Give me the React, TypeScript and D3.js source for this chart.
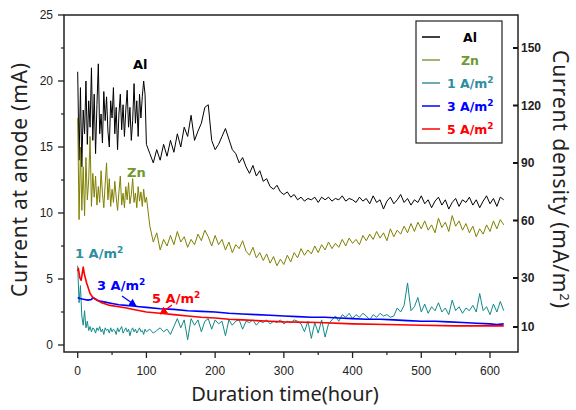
import React from "react";
import * as d3 from "d3";

// hours for the noisy anode current records (2 h steps, then 5 h)
const noisyHours = [...d3.range(0, 101, 2), ...d3.range(105, 621, 5)];

const alValues = [
  20.7, 14.0, 19.5, 13.5, 17.8, 16.0, 20.0, 15.2, 18.5, 16.5,
  21.0, 15.5, 19.0, 14.5, 18.2, 21.3, 16.0, 17.5, 15.3, 19.2,
  17.0, 18.8, 16.2, 15.0, 18.5, 17.2, 19.5, 16.0, 18.0, 14.8,
  17.5, 19.0, 16.3, 18.2, 15.8, 17.8, 19.3, 16.5, 18.0, 15.5,
  17.0, 19.8, 16.8, 18.5, 15.8, 19.0, 17.2, 18.8, 20.0, 19.0,
  15.2,
  14.5, 13.8, 14.8, 14.0, 15.2, 14.3, 15.5, 14.6, 16.0, 15.0,
  16.5, 15.8, 17.4, 15.5, 16.2, 16.8, 18.0, 18.2, 15.5, 14.8,
  15.2, 15.8, 16.4, 15.6, 14.8, 14.5, 13.8, 14.2, 13.5, 13.0,
  13.6, 12.8, 13.2, 12.4, 12.6, 12.0, 11.8, 12.1, 11.6, 11.4,
  11.6, 11.2, 11.4, 11.0, 11.2, 10.9, 11.1, 11.0, 11.2, 10.8,
  11.2, 11.0, 11.2, 10.9, 11.1, 11.0, 11.3, 10.9, 11.1, 11.0,
  10.8, 11.2, 10.9, 11.1, 10.7, 11.3, 10.8, 11.0, 10.3, 10.9,
  11.2, 10.7, 11.0, 11.4, 10.8, 11.1, 10.6, 11.0, 10.8, 11.3,
  10.7, 11.0, 10.4, 10.9, 11.2, 10.6, 11.0, 10.3, 10.8, 11.1,
  10.5, 11.0, 10.8, 11.2, 10.6, 11.0, 10.4, 10.9, 11.3, 10.7,
  11.1, 10.5, 11.2, 11.0,
];

const znValues = [
  17.2, 9.5, 15.0, 10.2, 13.5, 9.8, 14.2, 11.0, 12.5, 15.8,
  10.5, 13.0, 11.2, 12.8, 10.6, 12.0, 10.8, 13.2, 11.5, 10.4,
  12.2, 13.8, 11.0, 12.6, 10.5, 11.8, 10.8, 12.4, 11.2, 10.2,
  11.6, 12.8, 10.6, 11.5, 10.4, 12.0, 11.0, 12.3, 10.7, 11.4,
  12.6, 10.8, 11.5, 10.4, 12.0, 10.9, 11.6, 10.5, 11.8, 10.8,
  11.2,
  9.0, 7.8, 8.5, 7.2, 8.0, 7.5, 8.3, 7.6, 8.6, 7.8,
  8.2, 7.4, 8.0, 7.6, 8.4, 7.9, 8.7, 8.2, 7.5, 8.3,
  7.6, 8.0, 7.2, 7.8, 7.0, 7.6, 7.3, 7.9, 7.1, 6.8,
  7.4, 6.6, 7.0, 6.4, 6.9, 6.2, 6.7, 6.0, 6.5, 6.1,
  6.8, 6.3, 7.0, 6.6, 7.3, 6.8, 7.2, 6.9, 7.5, 7.0,
  7.6, 7.2, 7.8, 7.3, 7.7, 7.4, 8.0, 7.5, 8.1, 7.7,
  8.0, 7.6, 8.3, 7.9, 8.4, 8.0, 8.6, 8.1, 8.5, 7.9,
  8.8, 8.2, 8.7, 8.4, 9.0, 8.5, 9.2, 8.6, 9.3, 8.8,
  9.4, 8.7, 9.1, 8.5, 9.6, 8.9, 9.3, 8.6, 9.8, 9.0,
  9.4, 8.7, 9.2, 8.5, 9.0, 8.2, 8.8, 8.4, 9.1, 8.6,
  9.4, 8.8, 9.5, 9.1,
];

const oneAmpValues = [
  6.0, 3.2, 4.5, 2.2, 1.5, 2.6, 1.3, 1.8, 1.1, 1.4,
  1.0, 1.3, 1.2, 0.9, 1.3, 1.1, 1.4, 1.0, 1.2, 0.8,
  1.3, 1.1, 1.2, 0.9, 1.3, 1.0, 1.2, 1.1, 0.8, 1.3,
  1.0, 1.2, 1.4, 0.9, 1.1, 1.3, 1.0, 1.2, 0.7, 1.1,
  1.3, 1.0, 1.2, 0.9, 1.1, 1.3, 1.0, 1.1, 0.8, 1.2,
  1.0,
  1.2, 0.9, 1.1, 1.3, 1.0, 1.2, 0.8, 1.4, 2.0, 1.3,
  1.9, 0.4, 2.0, 1.5, 1.9, 1.0, 1.8, 2.0, 1.2, 1.9,
  1.6, 1.8, 0.7, 1.9, 1.5, 1.8, 1.9, 1.2, 1.8, 1.7,
  1.9, 1.5, 1.8, 1.7, 1.9, 1.6, 1.8, 1.7, 1.9, 1.6,
  1.8, 1.7, 1.9, 1.8, 1.6, 1.0, 1.8, 0.5, 1.7, 0.9,
  1.9, 0.6, 1.6, 1.9, 2.2, 1.8, 2.3, 2.1, 2.4, 2.0,
  2.3, 2.1, 2.4, 2.2, 1.9, 2.3, 2.1, 2.4, 2.2, 2.3,
  2.1, 2.2, 2.8, 2.5, 3.0, 4.7, 2.6, 2.9, 3.6, 2.5,
  3.1, 2.4, 2.9, 2.6, 3.2, 2.5, 2.8, 2.3, 3.4, 2.6,
  2.9, 2.4, 2.8, 2.6, 3.0, 2.5, 3.9, 2.6, 2.9, 2.3,
  3.1, 2.5, 3.3, 2.6,
];

const threeAmpHours = [0, 2, 5, 10, 15, 20, 22, 30, 40, 50, 60, 70, 80, 90, 100, 120, 140, 160, 180, 200, 220, 240, 260, 280, 300, 320, 340, 360, 380, 400, 420, 440, 460, 480, 500, 520, 540, 560, 580, 600, 610, 620];
const threeAmpValues = [3.6, 3.55, 3.5, 3.45, 3.4, 3.45, 3.6, 3.35, 3.25, 3.15, 3.05, 3.0, 2.95, 2.9, 2.85, 2.75, 2.7, 2.6, 2.55, 2.5, 2.4, 2.35, 2.3, 2.25, 2.2, 2.15, 2.1, 2.1, 2.05, 2.0, 1.95, 1.95, 1.9, 1.85, 1.8, 1.8, 1.75, 1.7, 1.65, 1.6, 1.55, 1.6];

const fiveAmpHours = [0, 1, 3, 5, 8, 10, 13, 18, 22, 28, 35, 47, 60, 71, 85, 100, 120, 140, 160, 180, 200, 220, 240, 260, 280, 300, 350, 400, 450, 500, 550, 600, 620];
const fiveAmpValues = [5.6, 5.8, 5.1, 4.9, 5.9, 5.3, 4.7, 3.9, 3.6, 3.4, 3.2, 3.0, 2.9, 2.8, 2.65, 2.5, 2.4, 2.3, 2.2, 2.1, 2.05, 1.95, 1.9, 1.85, 1.8, 1.75, 1.7, 1.6, 1.55, 1.5, 1.45, 1.45, 1.45];

const xTicks = [0, 100, 200, 300, 400, 500, 600];
const leftTicks = [0, 5, 10, 15, 20, 25];
const rightTicks = [10, 30, 60, 90, 120, 150];

const legendItems = [
  { label: "Al", line: "#000000", text: "#000000", sup: false },
  { label: "Zn", line: "#7f9f3f", text: "#6f9a2f", sup: false },
  { label: "1 A/m", line: "#3a8fa3", text: "#2f8ea0", sup: true },
  { label: "3 A/m", line: "#0000ff", text: "#0000ff", sup: true },
  { label: "5 A/m", line: "#ff0000", text: "#ff0000", sup: true },
];

const frame = { left: 64, right: 518, top: 15, bottom: 352 };

export default function App() {
  const x = d3.scaleLinear().domain([0, 600]).range([77.7, 490]);
  const y = d3.scaleLinear().domain([0, 25]).range([345, 15]);
  // right axis labels are not evenly spaced in the original
  const yRight = d3.scaleLinear().domain([10, 30, 150]).range([327, 278, 48]);

  const line = d3
    .line<[number, number]>()
    .x((d) => x(d[0]))
    .y((d) => y(d[1]));

  const zip = (hs: number[], vs: number[]) =>
    hs.map((h, i) => [h, vs[i]] as [number, number]);

  const series = [
    { pts: zip(noisyHours, alValues), color: "#000000", w: 1 },
    { pts: zip(noisyHours, znValues), color: "#808000", w: 1 },
    { pts: zip(noisyHours, oneAmpValues), color: "#108a8a", w: 1 },
    { pts: zip(threeAmpHours, threeAmpValues), color: "#0000ff", w: 1.6 },
    { pts: zip(fiveAmpHours, fiveAmpValues), color: "#ff0000", w: 1.6 },
  ];

  const minorX = d3.range(50, 601, 100);
  const minorY = d3.range(2.5, 25, 5);
  const tickFont = "Arial, 'Liberation Sans', sans-serif";
  const boldFont = "'DejaVu Sans', Verdana, sans-serif";
  const titleFont = "'Noto Sans', 'Open Sans', sans-serif";

  const blueTip: [number, number] = [85, 2.95];
  const redTip: [number, number] = [120, 2.35];

  return (
    <svg
      width={576}
      height={410}
      style={{ position: "absolute", left: 0, top: 0, background: "#fff" }}
    >
      <defs>
        <clipPath id="plot">
          <rect x={frame.left} y={frame.top} width={frame.right - frame.left} height={frame.bottom - frame.top} />
        </clipPath>
        <marker id="arrBlue" viewBox="0 0 10 10" refX="9" refY="5" markerWidth="6" markerHeight="6" orient="auto">
          <path d="M0,0 L10,5 L0,10 z" fill="#0000ff" />
        </marker>
        <marker id="arrRed" viewBox="0 0 10 10" refX="9" refY="5" markerWidth="6" markerHeight="6" orient="auto">
          <path d="M0,0 L10,5 L0,10 z" fill="#ff0000" />
        </marker>
      </defs>

      {/* data lines */}
      <g clipPath="url(#plot)">
        {series.map((s, i) => (
          <path key={i} d={line(s.pts) || ""} fill="none" stroke={s.color} strokeWidth={s.w} strokeLinejoin="round" />
        ))}
      </g>

      {/* frame */}
      <rect
        x={frame.left}
        y={frame.top}
        width={frame.right - frame.left}
        height={frame.bottom - frame.top}
        fill="none"
        stroke="#222"
        strokeWidth={1.5}
      />

      {/* left axis */}
      {leftTicks.map((t) => (
        <g key={"l" + t}>
          <line x1={frame.left - 6} x2={frame.left} y1={y(t)} y2={y(t)} stroke="#222" strokeWidth={1.3} />
          <text x={frame.left - 11} y={y(t)} dy="0.35em" textAnchor="end" fontSize={12} fontFamily={tickFont} fill="#222">
            {t}
          </text>
        </g>
      ))}
      {minorY.map((t) => (
        <line key={"lm" + t} x1={frame.left - 3} x2={frame.left} y1={y(t)} y2={y(t)} stroke="#222" strokeWidth={1.2} />
      ))}

      {/* bottom axis */}
      {xTicks.map((t) => (
        <g key={"x" + t}>
          <line x1={x(t)} x2={x(t)} y1={frame.bottom} y2={frame.bottom + 6} stroke="#222" strokeWidth={1.3} />
          <text x={x(t)} y={375} textAnchor="middle" fontSize={12} fontFamily={tickFont} fill="#222">
            {t}
          </text>
        </g>
      ))}
      {minorX.map((t) => (
        <line key={"xm" + t} x1={x(t)} x2={x(t)} y1={frame.bottom} y2={frame.bottom + 3} stroke="#222" strokeWidth={1.2} />
      ))}

      {/* right axis */}
      {rightTicks.map((t) => (
        <g key={"r" + t}>
          <line x1={frame.right - 5} x2={frame.right} y1={yRight(t)} y2={yRight(t)} stroke="#111" strokeWidth={2} />
          <text x={frame.right + 3} y={yRight(t)} dy="0.35em" fontSize={12} fontWeight="bold" fontFamily={tickFont} fill="#222">
            {t}
          </text>
        </g>
      ))}

      {/* axis titles */}
      <text
        transform="translate(27,180) rotate(-90)"
        textAnchor="middle"
        fontSize={21}
        textLength={234}
        lengthAdjust="spacing"
        fontFamily={titleFont}
        fill="#222"
      >
        Current at anode (mA)
      </text>
      <text x={285} y={401} textAnchor="middle" fontSize={20} fontFamily={titleFont} fill="#222">
        Duration time(hour)
      </text>
      <text
        transform="translate(553,179) rotate(90)"
        textAnchor="middle"
        fontSize={21}
        textLength={258}
        lengthAdjust="spacing"
        fontFamily={titleFont}
        fill="#222"
      >
        Current density (mA/m<tspan dy="-7" fontSize={13}>2</tspan>
        <tspan dy="7">)</tspan>
      </text>

      {/* in-plot labels */}
      <text x={133} y={69} fontSize={13} fontWeight="bold" fontFamily={boldFont} fill="#000">
        Al
      </text>
      <text x={127} y={177} fontSize={13} fontWeight="bold" fontFamily={boldFont} fill="#6f9a2f">
        Zn
      </text>
      <text x={75} y={258} fontSize={13} fontWeight="bold" fontFamily={boldFont} fill="#2f8ea0">
        1 A/m<tspan dy="-5" fontSize={9}>2</tspan>
      </text>
      <text x={97} y={290} fontSize={13} fontWeight="bold" fontFamily={boldFont} fill="#0000ff">
        3 A/m<tspan dy="-5" fontSize={9}>2</tspan>
      </text>
      <text x={152} y={303} fontSize={13} fontWeight="bold" fontFamily={boldFont} fill="#ff0000">
        5 A/m<tspan dy="-5" fontSize={9}>2</tspan>
      </text>
      <line
        x1={122}
        y1={296}
        x2={x(blueTip[0])}
        y2={y(blueTip[1])}
        stroke="#0000ff"
        strokeWidth={1.3}
        markerEnd="url(#arrBlue)"
      />
      <line
        x1={172}
        y1={305}
        x2={x(redTip[0])}
        y2={y(redTip[1])}
        stroke="#ff0000"
        strokeWidth={1.3}
        markerEnd="url(#arrRed)"
      />

      {/* legend */}
      <rect x={416} y={21} width={86} height={122} fill="#fff" stroke="#222" strokeWidth={1.2} />
      {legendItems.map((it, i) => {
        const cy = 37 + i * 23;
        return (
          <g key={it.label}>
            <line x1={422} x2={440} y1={cy} y2={cy} stroke={it.line} strokeWidth={1.5} />
            <text
              x={it.sup ? 447 : 470}
              y={cy + 4.5}
              textAnchor={it.sup ? "start" : "middle"}
              fontSize={12.5}
              fontWeight="bold"
              fontFamily={boldFont}
              fill={it.text}
            >
              {it.label}
              {it.sup && (
                <tspan dy="-5" fontSize={9}>
                  2
                </tspan>
              )}
            </text>
          </g>
        );
      })}
    </svg>
  );
}
